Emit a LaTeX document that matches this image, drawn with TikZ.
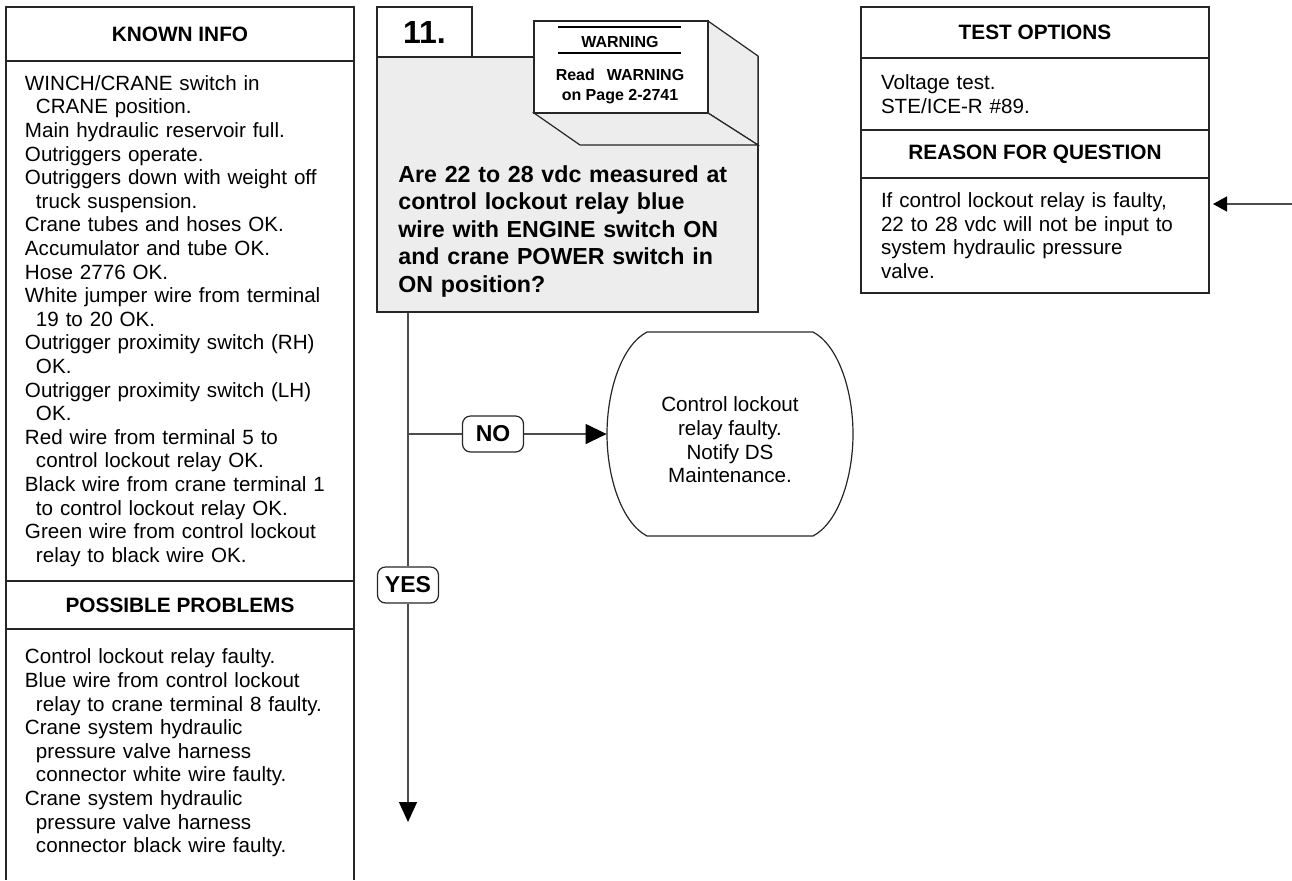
\documentclass[tikz,border=0pt]{standalone}
\usepackage{fontspec}
\setmainfont{Liberation Sans}
\usepackage{tikz}
\usetikzlibrary{positioning,arrows.meta}
\definecolor{qgrey}{gray}{0.93}
\newcommand{\contline}{\\\hspace*{5.5pt}}
\tikzset{box line/.style={draw=black!85,line width=0.6pt},
         head node/.style={box line,minimum width=174pt,inner sep=0pt,outer sep=0pt,
                           font=\bfseries\fontsize{10.4}{12}\selectfont},
         body node/.style={box line,text width=155pt,inner xsep=9.5pt,inner ysep=0pt,outer sep=0pt,
                           align=left,font=\fontsize{10.3}{11.8}\selectfont},
         answer node/.style={box line,fill=white,rounded corners=4pt,minimum width=30.5pt,
                           minimum height=18pt,inner sep=0pt,font=\bfseries\fontsize{11.5}{12}\selectfont},
         flow line/.style={draw=black!70,line width=0.7pt},
            }

\begin{document}
\begin{tikzpicture}[x=0.5pt,y=-0.5pt]
    \useasboundingbox (0,0) rectangle (1292,880);
    \coordinate (bottom) at (0,880);

    % left column
    \node[head node,minimum height=27pt] (known) at (180,34) {KNOWN INFO};
    \node[body node,minimum height=260pt,below=0pt of known] (knownbody)
      {WINCH/CRANE switch in\contline CRANE position.\\
       Main hydraulic reservoir full.\\
       Outriggers operate.\\
       Outriggers down with weight off\contline truck suspension.\\
       Crane tubes and hoses OK.\\
       Accumulator and tube OK.\\
       Hose 2776 OK.\\
       White jumper wire from terminal\contline 19 to 20 OK.\\
       Outrigger proximity switch (RH)\contline OK.\\
       Outrigger proximity switch (LH)\contline OK.\\
       Red wire from terminal 5 to\contline control lockout relay OK.\\
       Black wire from crane terminal 1\contline to control lockout relay OK.\\
       Green wire from control lockout\contline relay to black wire OK.};
    \node[head node,minimum height=24pt,below=0pt of knownbody] (problems) {POSSIBLE PROBLEMS};
    \node[body node,draw=none,minimum height=124pt,below=0pt of problems] (problemsbody)
      {Control lockout relay faulty.\\
       Blue wire from control lockout\contline relay to crane terminal 8 faulty.\\
       Crane system hydraulic\contline pressure valve harness\contline connector white wire faulty.\\
       Crane system hydraulic\contline pressure valve harness\contline connector black wire faulty.};
    \draw[box line] (problems.south west) -- (problems.south west |- bottom);
    \draw[box line] (problems.south east) -- (problems.south east |- bottom);

    % question block
    \node[box line,fill=qgrey,minimum width=190.5pt,minimum height=127.5pt] (question) at (567.5,184.5) {};
    \node[box line,fill=white,minimum width=47.5pt,minimum height=25pt,
          font=\bfseries\fontsize{16}{18}\selectfont] (num) at (424.5,32) {11.};
    \filldraw[box line,fill=qgrey] (708,21) -- (758,56) -- (758,145) -- (708,113) -- cycle;
    \filldraw[box line,fill=qgrey] (534,113) -- (708,113) -- (758,145) -- (580,145) -- cycle;
    \node[box line,fill=white,minimum width=87pt,minimum height=46pt] (warn) at (621,67) {};
    \draw[line width=1pt] (558,27) -- (681,27);
    \draw[line width=1pt] (558,53) -- (681,53);
    \node[font=\bfseries\fontsize{8}{10}\selectfont] (warnhead) at (620,42) {WARNING};
    \node[font=\bfseries\fontsize{8}{10}\selectfont,align=center] (warnnote) at (620,86)
      {Read\hspace{6pt}WARNING\\on Page 2-2741};
    \node[anchor=west,inner sep=0pt,text width=180pt,align=left,
          font=\bfseries\fontsize{11.6}{13.75}\selectfont] (qtext) at (398,231)
      {Are 22 to 28 vdc measured at\\
       control lockout relay blue\\
       wire with ENGINE switch ON\\
       and crane POWER switch in\\
       ON position?};

    % right column
    \node[head node,minimum height=25.5pt] (tests) at (1035,32.5) {TEST OPTIONS};
    \node[body node,minimum height=36pt,text width=154pt,inner xsep=10pt,below=0pt of tests] (testsbody)
      {Voltage test.\\STE/ICE-R \#89.};
    \node[head node,minimum height=24pt,below=0pt of testsbody] (reason) {REASON FOR QUESTION};
    \node[body node,minimum height=57.5pt,text width=154pt,inner xsep=10pt,below=0pt of reason] (reasonbody)
      {If control lockout relay is faulty,\\
       22 to 28 vdc will not be input to\\
       system hydraulic pressure\\
       valve.};

    % end of the NO branch
    \draw[box line] (647,332) -- (813,332)
      .. controls (838,345) and (853,390) .. (853,434)
      .. controls (853,478) and (838,523) .. (813,536) -- (647,536)
      .. controls (622,523) and (607,478) .. (607,434)
      .. controls (607,390) and (622,345) .. (647,332) -- cycle;
    \node[minimum width=123pt,minimum height=102pt,inner sep=0pt,align=center,
          font=\fontsize{10.3}{11.8}\selectfont] (fault) at (730,440)
      {Control lockout\\relay faulty.\\Notify DS\\Maintenance.};

    % flow
    \coordinate (split) at (408,434);
    \coordinate (next) at (408,822);
    \coordinate (feed) at (1292,204);
    \node[answer node] (yes) at (408,585) {YES};
    \node[answer node] (no) at (493,434) {NO};

    \path[flow line]
    (question.south -| split) edge node {} (yes)
    (split) edge node {} (no)
    ;
    \draw[flow line,-{Triangle[length=10pt,width=9pt,color=black]}] (yes) -- (next);
    \draw[flow line,-{Triangle[length=10.5pt,width=10pt,color=black]}] (no) -- (fault.west |- no);
    \draw[flow line,shorten >=2pt,-{Triangle[length=7pt,width=7.5pt,color=black]}] (feed) -- (reasonbody.east |- feed);
    %%
\end{tikzpicture}
\end{document}
